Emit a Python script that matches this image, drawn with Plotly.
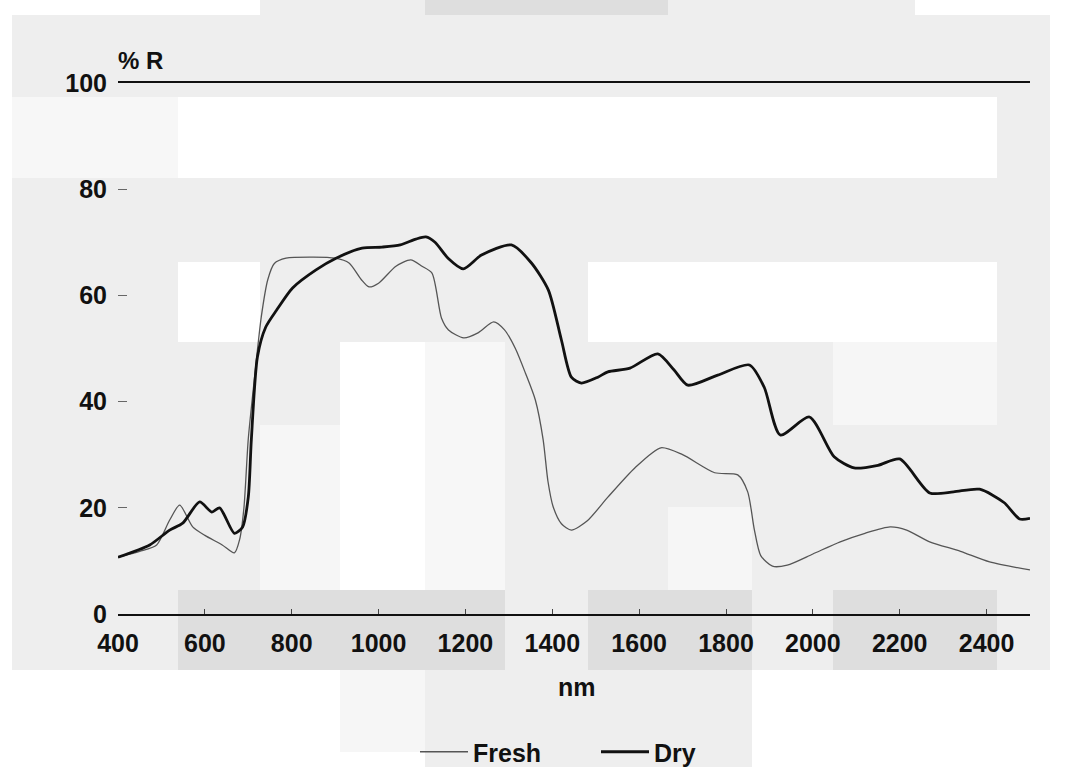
import plotly.graph_objects as go

# ---------------- data ----------------
fresh_nm = [400, 450, 489, 519, 542, 572, 600, 640, 668, 680, 690, 700, 715, 730, 745, 760, 787,
            850, 900, 932, 960, 978, 1000, 1040, 1074, 1100, 1123, 1145, 1161, 1196, 1230, 1265,
            1290, 1315, 1338, 1361, 1379, 1390, 1402, 1421, 1444, 1480, 1528, 1590, 1650, 1700,
            1774, 1827, 1850, 1865, 1880, 1907, 1941, 2000, 2063, 2120, 2178, 2216, 2269, 2340,
            2407, 2500]
fresh_r = [10.7, 11.8, 13.0, 17.7, 20.5, 16.4, 14.8, 13.0, 11.5, 14.0, 20.0, 33.0, 45.0, 56.0, 63.0,
           66.0, 67.0, 67.2, 67.0, 66.1, 63.0, 61.6, 62.3, 65.5, 66.7, 65.5, 64.2, 55.7, 53.5, 52.0,
           53.0, 55.0, 53.5, 50.0, 45.4, 40.3, 32.8, 25.0, 20.2, 17.0, 15.8, 17.5, 22.0, 27.5, 31.3,
           30.0, 26.6, 26.2, 23.0, 16.0, 11.0, 9.0, 9.2, 11.3, 13.6, 15.2, 16.4, 15.8, 13.6, 11.8,
           9.8, 8.3]

dry_nm = [400, 473, 519, 549, 588, 616, 634, 668, 687, 700, 707, 721, 740, 765, 802, 856, 902, 962,
          1008, 1050, 1086, 1109, 1130, 1160, 1195, 1237, 1306, 1352, 1391, 1421, 1444, 1467, 1505,
          1528, 1579, 1643, 1680, 1712, 1781, 1854, 1888, 1925, 1992, 2049, 2095, 2150, 2200, 2269,
          2324, 2384, 2440, 2476, 2500]
dry_r = [10.7, 13.0, 15.8, 17.1, 21.1, 19.2, 20.0, 15.2, 16.4, 22.0, 32.8, 48.4, 54.0, 57.2, 61.4,
         64.8, 67.0, 68.9, 69.1, 69.5, 70.6, 71.0, 70.0, 67.0, 65.0, 67.6, 69.5, 66.1, 61.0, 51.6,
         44.6, 43.5, 44.6, 45.6, 46.3, 49.0, 46.0, 43.1, 45.0, 46.9, 42.7, 33.7, 37.1, 29.6, 27.5,
         28.0, 29.2, 22.8, 23.0, 23.5, 21.0, 17.9, 18.0]

x_ticks = [400, 600, 800, 1000, 1200, 1400, 1600, 1800, 2000, 2200, 2400]
y_ticks = [0, 20, 40, 60, 80, 100]

# ---------------- layout geometry ----------------
W, H = 1065, 767
L, R, T, B = 118, 35, 83, 153
PW, PH = W - L - R, H - T - B


def px(x):
    return (x - L) / PW


def py(y):
    return (H - B - y) / PH


# scanned-paper background patches (pixel boxes, styling only)
patches = [
    (12, 15, 1050, 670, "#eeeeee"),
    (260, 0, 425, 15, "#eeeeee"), (425, 0, 668, 15, "#dedede"), (668, 0, 915, 15, "#eeeeee"),
    (12, 97, 178, 178, "#f7f7f7"), (178, 97, 997, 178, "#ffffff"),
    (178, 262, 260, 342, "#ffffff"), (588, 262, 997, 342, "#ffffff"),
    (833, 342, 997, 425, "#f6f6f6"),
    (340, 342, 425, 590, "#ffffff"), (425, 342, 505, 590, "#f7f7f7"),
    (260, 425, 340, 590, "#f6f6f6"), (668, 507, 752, 590, "#f6f6f6"),
    (178, 590, 505, 670, "#dedede"), (588, 590, 752, 670, "#dedede"), (833, 590, 997, 670, "#dedede"),
    (340, 670, 425, 752, "#f6f6f6"), (425, 670, 752, 767, "#eeeeee"),
]
shapes = [dict(type="rect", xref="paper", yref="paper", x0=px(a), x1=px(c), y0=py(d), y1=py(b),
               fillcolor=col, line=dict(width=0), layer="below") for a, b, c, d, col in patches]

FONT = "Liberation Sans"

fig = go.Figure()
fig.add_trace(go.Scatter(x=fresh_nm, y=fresh_r, mode="lines", name="Fresh",
                         line=dict(color="#555555", width=1.3, shape="spline", smoothing=0.7)))
fig.add_trace(go.Scatter(x=dry_nm, y=dry_r, mode="lines", name="Dry",
                         line=dict(color="#111111", width=2.8, shape="spline", smoothing=0.7)))

fig.update_layout(
    width=W, height=H,
    margin=dict(l=L, r=R, t=T, b=B, autoexpand=False),
    paper_bgcolor="#ffffff",
    plot_bgcolor="rgba(0,0,0,0)",
    shapes=shapes,
    font=dict(family=FONT, size=25, color="#111111", weight="bold"),
    showlegend=True,
    legend=dict(orientation="h", xref="container", yref="container",
                x=415 / W, xanchor="left", y=(H - 752) / H, yanchor="middle",
                bgcolor="rgba(0,0,0,0)", font=dict(family=FONT, size=25, weight="bold"),
                itemwidth=48, entrywidth=118, entrywidthmode="pixels"),
    xaxis=dict(range=[400, 2500], tickvals=x_ticks, ticktext=[str(v) for v in x_ticks],
               showgrid=False, zeroline=False, showline=True, linecolor="#111111", linewidth=1.8,
               mirror=True, ticks="inside", ticklen=5, tickcolor="#444444",
               ticklabelstandoff=6,
               tickfont=dict(family=FONT, size=25, weight="bold")),
    yaxis=dict(range=[0, 100], tickvals=y_ticks, ticktext=[str(v) for v in y_ticks],
               showgrid=False, zeroline=False, showline=False,
               ticks="inside", ticklen=9, tickcolor="#666666",
               ticklabelstandoff=10,
               tickfont=dict(family=FONT, size=25, weight="bold")),
    annotations=[
        dict(text="% R", xref="paper", yref="paper", x=px(116), y=py(60), xanchor="left",
             yanchor="middle", showarrow=False, font=dict(family=FONT, size=24, weight="bold")),
        dict(text="nm", xref="paper", yref="paper", x=px(577), y=py(687), xanchor="center",
             yanchor="middle", showarrow=False, font=dict(family=FONT, size=25, weight="bold")),
    ],
)

fig.write_html("out.html")
